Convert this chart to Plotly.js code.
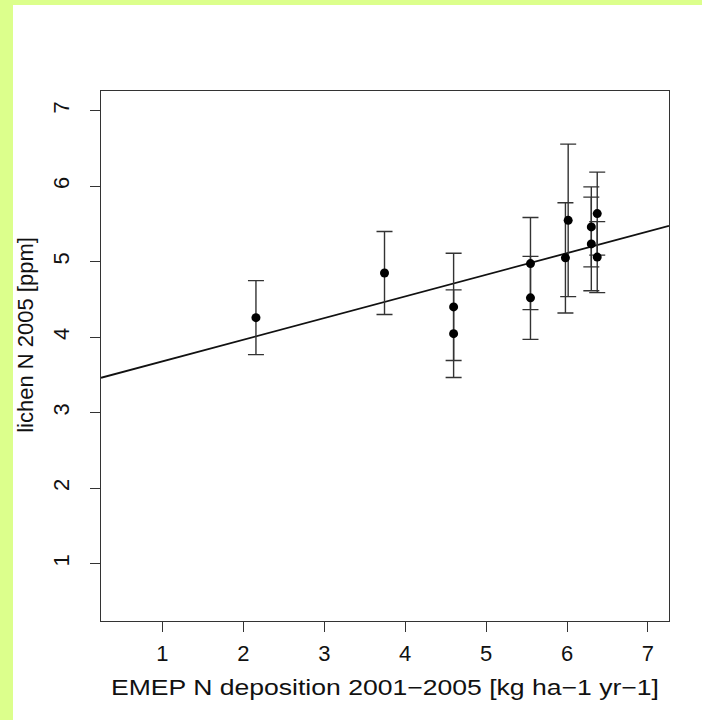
<!DOCTYPE html>
<html>
<head>
<meta charset="utf-8">
<script src="https://cdn.plot.ly/plotly-3.0.1.min.js"></script>
<style>
  html, body { margin: 0; padding: 0; width: 702px; height: 720px; overflow: hidden; background: rgb(220,255,140); }
  #chart { position: absolute; left: 13px; top: 5px; width: 689px; height: 715px; background: #fff; }
</style>
</head>
<body>
<div id="chart"></div>
<script>
// Data
var depositionX = [2.155, 3.744, 4.598, 4.598, 5.548, 5.548, 5.98, 6.014, 6.30, 6.30, 6.373, 6.373];
var lichenN     = [4.258, 4.85, 4.40, 4.046, 4.974, 4.52, 5.05, 5.547, 5.46, 5.235, 5.636, 5.06];
var lichenErr   = [0.49, 0.55, 0.71, 0.58, 0.61, 0.55, 0.73, 1.01, 0.53, 0.62, 0.55, 0.47];
var fitIntercept = 3.393;
var fitSlope = 0.2866;
var xTicks = [1, 2, 3, 4, 5, 6, 7];
var yTicks = [1, 2, 3, 4, 5, 6, 7];
var xRange = [0.24, 7.26];
var yRange = [0.24, 7.26];
var xTitle = 'EMEP N deposition 2001\u22122005 [kg ha\u22121 yr\u22121]';
var yTitle = 'lichen N 2005 [ppm]';

var lineX = [xRange[0], xRange[1]];
var lineY = lineX.map(function (v) { return fitIntercept + fitSlope * v; });

var traces = [
  {
    x: lineX, y: lineY, type: 'scatter', mode: 'lines',
    line: { color: '#111', width: 1.8 }, hoverinfo: 'skip', showlegend: false, cliponaxis: true
  },
  {
    x: depositionX, y: lichenN, type: 'scatter', mode: 'markers',
    marker: { color: '#000', size: 9 },
    error_y: { type: 'data', array: lichenErr, visible: true, color: '#333', thickness: 1.4, width: 8 },
    showlegend: false
  }
];

var axisFont = { family: 'Liberation Sans, Arial, sans-serif', size: 22, color: '#111' };

var layout = {
  width: 689, height: 715,
  margin: { l: 88, r: 33, t: 86, b: 99 },
  paper_bgcolor: '#fff', plot_bgcolor: '#fff',
  showlegend: false,
  xaxis: {
    range: xRange, tickvals: xTicks, ticktext: xTicks.map(String),
    ticks: 'outside', ticklen: 10, tickwidth: 1, tickcolor: '#333',
    showline: true, mirror: true, linecolor: '#333', linewidth: 1,
    showgrid: false, zeroline: false,
    tickfont: axisFont, ticklabelstandoff: 3,
    title: { text: xTitle, font: axisFont, standoff: 14 }
  },
  yaxis: {
    range: yRange, tickvals: yTicks, ticktext: yTicks.map(String),
    ticks: 'outside', ticklen: 10, tickwidth: 1, tickcolor: '#333',
    showline: true, mirror: true, linecolor: '#333', linewidth: 1,
    showgrid: false, zeroline: false, tickangle: -90,
    tickfont: axisFont, ticklabelstandoff: 12
  },
  annotations: [{
    text: yTitle, textangle: -90, showarrow: false,
    xref: 'paper', yref: 'paper', x: -0.132, y: 0.54,
    xanchor: 'center', yanchor: 'middle', font: axisFont, borderpad: 0
  }]
};

Plotly.newPlot('chart', traces, layout, { staticPlot: true, displayModeBar: false }).then(function (gd) {
  // the reference's x-axis title is drawn slightly wider than the font's natural width
  var t = gd.querySelector('.g-xtitle text');
  if (t) {
    t.setAttribute('textLength', '548');
    t.setAttribute('lengthAdjust', 'spacingAndGlyphs');
  }
});
</script>
</body>
</html>
